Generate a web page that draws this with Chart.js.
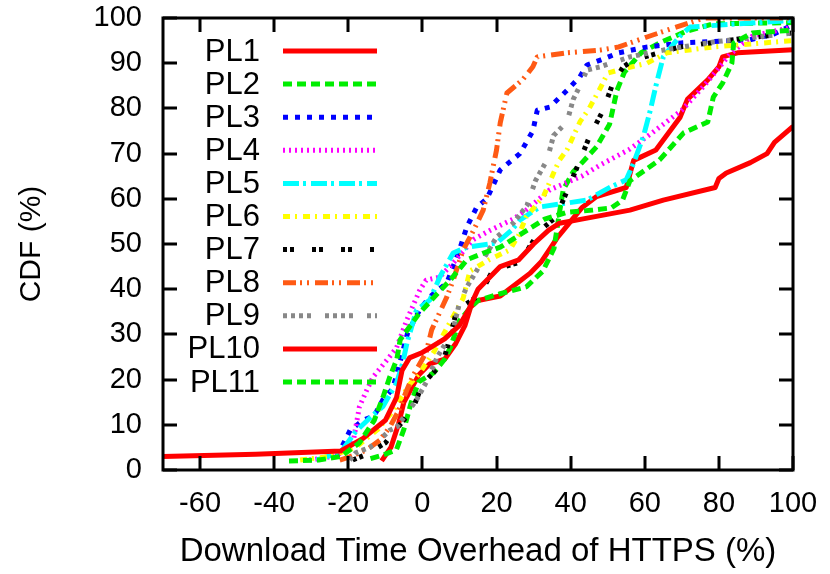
<!DOCTYPE html>
<html><head><meta charset="utf-8">
<script src="https://cdn.jsdelivr.net/npm/chart.js@4/dist/chart.umd.min.js"></script>
<style>html,body{margin:0;padding:0;background:#fff;}#wrap{width:830px;height:574px;position:relative;}</style>
</head><body><div id="wrap"><canvas id="c"></canvas></div>
<script>
const seriesNames = ['PL1','PL2','PL3','PL4','PL5','PL6','PL7','PL8','PL9','PL10','PL11'];
const xTickValues = [-60,-40,-20,0,20,40,60,80,100];
const yTickValues = [0,10,20,30,40,50,60,70,80,90,100];

const pl1 = [[-11,2],[-8.5,5],[-6.5,10],[-5,15],[-3,18],[-1,21],[2,23.5],[6,24.5],[9,28],[11.5,32],[13,36],[15,37.5],[21,38.5],[25,41],[29,43.5],[32,46],[34.5,49],[36.5,51.5],[40,55],[43,58],[47,60.5],[55,62.5],[57,68.5],[63,70.8],[69.5,78],[71.5,82],[77,86.3],[80,89.2],[81,91.4],[85,92.3],[100,93]];
const pl2 = [[-14,2.5],[-10,3.5],[-7,4.5],[-5,9],[-4,12],[-3,15],[-1,19.5],[3,21.5],[6,24.5],[7.5,27],[10,33],[13,36],[15,37.5],[21,39],[28,40.5],[32.5,44],[35.5,49],[37,57],[38,62],[40.7,66],[42.5,67.5],[47,71.5],[50.5,76.5],[52.5,84],[54.5,88],[59,92.3],[64,94.5],[71,97],[78.5,98.7],[100,99]];
const pl3 = [[-23,3],[-19.5,8.8],[-16,11],[-13,12],[-10.7,15.5],[-8,18],[-6,24],[-4,30.3],[-0.7,35.5],[2,38.3],[6.6,41.4],[10,48.7],[12,53.8],[14.7,58.2],[17.4,60],[21,66.4],[26.3,70],[29.8,75],[31,79.6],[34.4,80.3],[39,84],[42.5,87],[44.4,89.6],[48,90.7],[53,92.3],[60,93.5],[70,94.5],[88,95.1],[95,96.5],[100,98.5]];
const pl4 = [[-30.5,2.2],[-24,3],[-20,4.5],[-18.6,6.6],[-17,14],[-15,17.7],[-13.3,20.6],[-9.6,24.3],[-7,27],[-4.2,33.2],[-0.7,39.8],[1,42],[4.7,42.7],[8.3,45.8],[13.8,51],[18.2,53],[24.5,55.5],[28,57.5],[34.4,62],[43,65],[48,67.5],[56,71],[62,74.6],[70,79.6],[76,85],[79.5,88.5],[83,92],[89,96],[100,98]];
const pl5 = [[-28.6,2.2],[-22,4],[-18,8.5],[-14.2,11.5],[-10.7,14],[-7,19.2],[-5.3,23.7],[-4.2,28],[-1.6,35.4],[2,37.6],[4.7,42.7],[8.3,48],[12,49.3],[20,50.2],[24,53],[26.3,55.3],[31.7,58.2],[44.4,59.7],[50.7,62.6],[55,64.2],[57,67.9],[59.6,73.7],[61.5,79.6],[63,85],[65,91.4],[69.5,96],[72.2,98],[100,99.5]];
const pl6 = [[-33,2.2],[-25,3],[-18,5],[-12,9],[-8,13],[-3.4,19],[-0.7,21.5],[3,26],[7,32],[11,38],[12.8,44],[18,46.5],[23.6,48.7],[26,52],[28,56],[32.6,60.4],[35.4,65.7],[37,68.6],[39,70.8],[42.5,77],[45,80],[48,84.5],[50,87.8],[53,88.5],[60.6,90],[66,92.3],[78.5,93.6],[100,95]];
const pl7 = [[-18.8,2.2],[-15,3.5],[-10,6],[-5.6,10.5],[-2.7,13.3],[0,19],[5.5,23.7],[7,28],[9.3,35.4],[15.5,38.7],[19,44.2],[26.3,46],[31.7,53],[35.4,55.5],[37.1,58],[39.5,62.6],[42,67.5],[45.2,74],[48.8,79.6],[51.4,85.6],[54.2,89.2],[57,90.7],[69.5,93.6],[87.7,95.6],[100,96.7]];
const pl8 = [[-22.3,2.2],[-19.6,2.9],[-15,4.5],[-11.5,6.6],[-8.8,9.5],[-6.5,13],[-4.2,17.7],[-2.7,20.6],[1,26],[2.5,31],[6.6,38.3],[8.3,42],[11,48.7],[13.8,53],[16.4,57.5],[18.2,63.5],[20,70.8],[21,76.8],[22.8,83.4],[27,86.3],[29.8,89.2],[31,91.4],[39,92.3],[48,92.9],[53,93.6],[60.6,95.8],[66,97.3],[72,98.9],[76,100],[100,100]];
const pl9 = [[-19.6,2.2],[-18,3.8],[-14.2,5],[-12.4,6],[-8.8,8.8],[-6.9,9.5],[-1.6,15.5],[1.1,19.5],[4,25],[7,29],[8.3,31],[10,37],[12,40.5],[14.7,44.2],[17.4,48],[20,51.5],[24.5,54.6],[28.2,58.5],[30.5,64],[33.6,68.5],[35.4,74],[39,77],[40.7,82],[42.5,85],[44.4,88.5],[48,89.2],[56,91.4],[65,92.9],[78.5,94.7],[100,96.7]];
const pl10 = [[-70,3],[-45,3.5],[-22,4.2],[-16,7],[-10,11],[-7,16],[-5.5,22],[-3.5,24.8],[0,26],[6,29],[10,32],[12.5,35.5],[15,40],[21,45],[26,46.5],[30,50],[34,53],[37,54.6],[43,55.5],[56,57.5],[65,59.7],[79,62.5],[80,64.5],[82,65.7],[88.5,68],[93,70],[95,72.5],[100,76]];
const pl11 = [[-36,2],[-28,2.2],[-22,3],[-17,6],[-13,11],[-10.7,16],[-8.8,20.6],[-6.9,24.5],[-6,28.8],[-1,34.5],[4,39],[7.5,42],[12,46.5],[16.5,48],[21,49.3],[27,52.4],[33,55.5],[39,57],[46,57.5],[51,58],[54,59.7],[56,64],[64,68.6],[70.5,74.6],[77,77],[78.5,82.5],[81,85.6],[83.5,90],[84,94.5],[89,96.7],[100,97.3]];

const seriesData = [pl1,pl2,pl3,pl4,pl5,pl6,pl7,pl8,pl9,pl10,pl11];
const lineColors = ['#ff0000','#00ee00','#0000ff','#ff00ff','#00ffff','#ffff00','#000000','#ff5a14','#888888','#ff0000','#00ee00'];
const lineDashes = [[],[9,5],[5,7],[2,4],[16,4,3,5],[7,5,2,6],[4,3,4,18],[13,4,2,5,2,6],[4,4,4,4,4,4,4,14],[],[9,5]];
const FONT = "'Liberation Sans', Arial, sans-serif";

const datasets = seriesData.map((d,i)=>({
  label: seriesNames[i],
  data: d.map(p=>({x:p[0], y:p[1]})),
  borderColor: lineColors[i],
  borderDash: lineDashes[i],
  borderWidth: 5,
  borderCapStyle: 'butt',
  borderJoinStyle: 'round',
  pointRadius: 0,
  tension: 0,
  fill: false,
  order: seriesData.length - i
}));

const framePlugin = {
  id: 'frame',
  afterDatasetsDraw(chart){
    const {ctx, chartArea:a, scales:{x,y}} = chart;
    ctx.save();
    ctx.strokeStyle = '#000';
    ctx.lineWidth = 3;
    ctx.setLineDash([]);
    ctx.beginPath();
    xTickValues.forEach(v=>{
      const px = Math.round(x.getPixelForValue(v));
      ctx.moveTo(px, a.bottom); ctx.lineTo(px, a.bottom-14);
      ctx.moveTo(px, a.top); ctx.lineTo(px, a.top+14);
    });
    yTickValues.forEach(v=>{
      const py = Math.round(y.getPixelForValue(v));
      ctx.moveTo(a.left, py); ctx.lineTo(a.left+14, py);
      ctx.moveTo(a.right, py); ctx.lineTo(a.right-14, py);
    });
    ctx.stroke();
    ctx.strokeRect(a.left, a.top, a.right-a.left, a.bottom-a.top);
    ctx.font = "31px " + FONT;
    ctx.textAlign = 'right';
    ctx.textBaseline = 'middle';
    chart.data.datasets.forEach((ds,i)=>{
      const ly = 51 + 33.1*i;
      ctx.fillStyle = '#000';
      ctx.fillText(ds.label, 260, ly+1);
      ctx.strokeStyle = ds.borderColor;
      ctx.lineWidth = 5;
      ctx.lineCap = 'butt';
      ctx.setLineDash(ds.borderDash);
      ctx.beginPath();
      ctx.moveTo(283, ly); ctx.lineTo(377, ly);
      ctx.stroke();
    });
    ctx.restore();
  }
};

new Chart(document.getElementById('c'), {
  type: 'line',
  data: { datasets },
  options: {
    responsive: true,
    maintainAspectRatio: false,
    animation: false,
    layout: { padding: { left: 0, right: 37, top: 18, bottom: 0 } },
    plugins: { legend: { display: false }, tooltip: { enabled: false } },
    scales: {
      x: {
        type: 'linear', min: -70, max: 100,
        afterBuildTicks: s => { s.ticks = xTickValues.map(v=>({value:v})); },
        afterFit: s => { s.height = 104; s.paddingLeft = 0; s.paddingRight = 0; },
        grid: { display: false, drawTicks: false },
        border: { display: false },
        ticks: { color: '#000', font: { family: FONT, size: 29 }, padding: 17, maxRotation: 0, autoSkip: false },
        title: { display: true, text: 'Download Time Overhead of HTTPS (%)', color: '#000', font: { family: FONT, size: 33 }, padding: { top: 0, bottom: 2 } }
      },
      y: {
        type: 'linear', min: 0, max: 100,
        afterBuildTicks: s => { s.ticks = yTickValues.map(v=>({value:v})); },
        afterFit: s => { s.width = 163; s.paddingTop = 0; s.paddingBottom = 0; },
        grid: { display: false, drawTicks: false },
        border: { display: false },
        ticks: { color: '#000', font: { family: FONT, size: 29 }, padding: 21, autoSkip: false },
        title: { display: true, text: 'CDF (%)', color: '#000', font: { family: FONT, size: 30 }, padding: { top: 14, bottom: 0 } }
      }
    }
  },
  plugins: [framePlugin]
});
</script>
</body></html>
